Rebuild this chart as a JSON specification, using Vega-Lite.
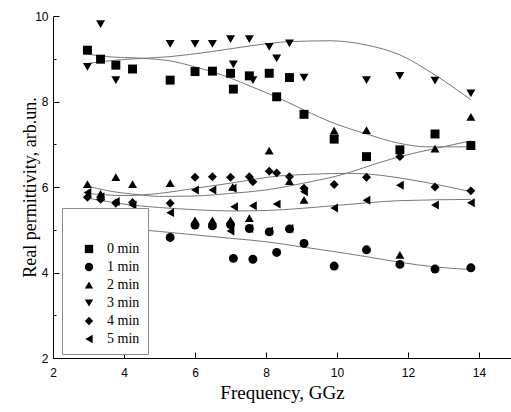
{
  "$schema": "https://vega.github.io/schema/vega-lite/v6.json",
  "width": 458,
  "height": 342,
  "autosize": "none",
  "padding": {"left": 53, "top": 16, "right": 0, "bottom": 54},
  "background": "white",
  "config": {"view": {"stroke": null}},
  "datasets": {
    "points": [
      {"f": 2.97, "v": 9.20, "series": "0 min"},
      {"f": 3.34, "v": 8.99, "series": "0 min"},
      {"f": 3.77, "v": 8.85, "series": "0 min"},
      {"f": 4.24, "v": 8.76, "series": "0 min"},
      {"f": 5.30, "v": 8.50, "series": "0 min"},
      {"f": 6.00, "v": 8.70, "series": "0 min"},
      {"f": 6.49, "v": 8.71, "series": "0 min"},
      {"f": 7.00, "v": 8.66, "series": "0 min"},
      {"f": 7.08, "v": 8.29, "series": "0 min"},
      {"f": 7.53, "v": 8.60, "series": "0 min"},
      {"f": 8.09, "v": 8.66, "series": "0 min"},
      {"f": 8.30, "v": 8.11, "series": "0 min"},
      {"f": 8.66, "v": 8.56, "series": "0 min"},
      {"f": 9.07, "v": 7.70, "series": "0 min"},
      {"f": 9.92, "v": 7.12, "series": "0 min"},
      {"f": 10.83, "v": 6.71, "series": "0 min"},
      {"f": 11.77, "v": 6.87, "series": "0 min"},
      {"f": 12.76, "v": 7.24, "series": "0 min"},
      {"f": 13.77, "v": 6.97, "series": "0 min"},
      {"f": 5.30, "v": 4.82, "series": "1 min"},
      {"f": 6.00, "v": 5.11, "series": "1 min"},
      {"f": 6.49, "v": 5.09, "series": "1 min"},
      {"f": 7.00, "v": 5.12, "series": "1 min"},
      {"f": 7.08, "v": 4.33, "series": "1 min"},
      {"f": 7.53, "v": 5.03, "series": "1 min"},
      {"f": 7.63, "v": 4.31, "series": "1 min"},
      {"f": 8.09, "v": 4.95, "series": "1 min"},
      {"f": 8.30, "v": 4.47, "series": "1 min"},
      {"f": 8.66, "v": 5.02, "series": "1 min"},
      {"f": 9.07, "v": 4.68, "series": "1 min"},
      {"f": 9.92, "v": 4.15, "series": "1 min"},
      {"f": 10.83, "v": 4.53, "series": "1 min"},
      {"f": 11.77, "v": 4.19, "series": "1 min"},
      {"f": 12.76, "v": 4.08, "series": "1 min"},
      {"f": 13.77, "v": 4.11, "series": "1 min"},
      {"f": 2.97, "v": 6.07, "series": "2 min"},
      {"f": 3.34, "v": 5.84, "series": "2 min"},
      {"f": 3.77, "v": 6.23, "series": "2 min"},
      {"f": 4.24, "v": 6.07, "series": "2 min"},
      {"f": 5.30, "v": 6.09, "series": "2 min"},
      {"f": 6.00, "v": 5.22, "series": "2 min"},
      {"f": 6.49, "v": 5.22, "series": "2 min"},
      {"f": 7.00, "v": 5.22, "series": "2 min"},
      {"f": 7.06, "v": 6.00, "series": "2 min"},
      {"f": 7.53, "v": 5.27, "series": "2 min"},
      {"f": 8.09, "v": 6.85, "series": "2 min"},
      {"f": 8.66, "v": 6.14, "series": "2 min"},
      {"f": 9.07, "v": 5.70, "series": "2 min"},
      {"f": 9.92, "v": 7.32, "series": "2 min"},
      {"f": 10.83, "v": 7.33, "series": "2 min"},
      {"f": 11.77, "v": 4.41, "series": "2 min"},
      {"f": 12.76, "v": 6.90, "series": "2 min"},
      {"f": 13.77, "v": 7.64, "series": "2 min"},
      {"f": 2.97, "v": 8.81, "series": "3 min"},
      {"f": 3.34, "v": 9.81, "series": "3 min"},
      {"f": 3.77, "v": 8.50, "series": "3 min"},
      {"f": 4.24, "v": 8.76, "series": "3 min"},
      {"f": 5.30, "v": 9.35, "series": "3 min"},
      {"f": 6.00, "v": 9.35, "series": "3 min"},
      {"f": 6.49, "v": 9.35, "series": "3 min"},
      {"f": 7.00, "v": 9.46, "series": "3 min"},
      {"f": 7.08, "v": 8.87, "series": "3 min"},
      {"f": 7.53, "v": 9.46, "series": "3 min"},
      {"f": 7.63, "v": 8.50, "series": "3 min"},
      {"f": 8.09, "v": 9.28, "series": "3 min"},
      {"f": 8.30, "v": 9.01, "series": "3 min"},
      {"f": 8.66, "v": 9.36, "series": "3 min"},
      {"f": 9.07, "v": 8.56, "series": "3 min"},
      {"f": 10.83, "v": 8.50, "series": "3 min"},
      {"f": 11.77, "v": 8.60, "series": "3 min"},
      {"f": 12.76, "v": 8.49, "series": "3 min"},
      {"f": 13.77, "v": 8.19, "series": "3 min"},
      {"f": 2.97, "v": 5.76, "series": "4 min"},
      {"f": 3.34, "v": 5.71, "series": "4 min"},
      {"f": 3.77, "v": 5.62, "series": "4 min"},
      {"f": 4.24, "v": 5.64, "series": "4 min"},
      {"f": 5.30, "v": 5.62, "series": "4 min"},
      {"f": 6.00, "v": 6.23, "series": "4 min"},
      {"f": 6.49, "v": 6.24, "series": "4 min"},
      {"f": 7.00, "v": 6.23, "series": "4 min"},
      {"f": 7.53, "v": 6.24, "series": "4 min"},
      {"f": 7.63, "v": 6.12, "series": "4 min"},
      {"f": 8.09, "v": 6.37, "series": "4 min"},
      {"f": 8.30, "v": 6.33, "series": "4 min"},
      {"f": 8.66, "v": 6.24, "series": "4 min"},
      {"f": 9.07, "v": 5.97, "series": "4 min"},
      {"f": 9.92, "v": 6.06, "series": "4 min"},
      {"f": 10.83, "v": 6.23, "series": "4 min"},
      {"f": 11.77, "v": 6.71, "series": "4 min"},
      {"f": 12.76, "v": 6.00, "series": "4 min"},
      {"f": 13.77, "v": 5.91, "series": "4 min"},
      {"f": 2.97, "v": 5.87, "series": "5 min"},
      {"f": 3.34, "v": 5.77, "series": "5 min"},
      {"f": 3.77, "v": 5.66, "series": "5 min"},
      {"f": 4.24, "v": 5.58, "series": "5 min"},
      {"f": 5.30, "v": 5.40, "series": "5 min"},
      {"f": 6.00, "v": 5.93, "series": "5 min"},
      {"f": 6.49, "v": 5.93, "series": "5 min"},
      {"f": 7.00, "v": 4.97, "series": "5 min"},
      {"f": 7.06, "v": 5.97, "series": "5 min"},
      {"f": 7.10, "v": 5.54, "series": "5 min"},
      {"f": 7.53, "v": 5.03, "series": "5 min"},
      {"f": 7.63, "v": 5.56, "series": "5 min"},
      {"f": 8.09, "v": 4.97, "series": "5 min"},
      {"f": 8.30, "v": 5.60, "series": "5 min"},
      {"f": 8.66, "v": 5.03, "series": "5 min"},
      {"f": 9.07, "v": 5.89, "series": "5 min"},
      {"f": 9.92, "v": 5.51, "series": "5 min"},
      {"f": 10.83, "v": 5.69, "series": "5 min"},
      {"f": 11.77, "v": 6.04, "series": "5 min"},
      {"f": 12.76, "v": 5.58, "series": "5 min"},
      {"f": 13.77, "v": 5.63, "series": "5 min"}
    ],
    "fits": [
      {"f": 2.97, "v": 9.11, "series": "0 min"},
      {"f": 3.5, "v": 9.05, "series": "0 min"},
      {"f": 4.54, "v": 9.01, "series": "0 min"},
      {"f": 5.3, "v": 8.95, "series": "0 min"},
      {"f": 6.0, "v": 8.81, "series": "0 min"},
      {"f": 6.9, "v": 8.58, "series": "0 min"},
      {"f": 7.64, "v": 8.33, "series": "0 min"},
      {"f": 8.39, "v": 8.07, "series": "0 min"},
      {"f": 9.07, "v": 7.80, "series": "0 min"},
      {"f": 9.92, "v": 7.49, "series": "0 min"},
      {"f": 10.83, "v": 7.24, "series": "0 min"},
      {"f": 11.77, "v": 7.02, "series": "0 min"},
      {"f": 12.52, "v": 6.94, "series": "0 min"},
      {"f": 13.77, "v": 6.94, "series": "0 min"},
      {"f": 2.97, "v": 5.10, "series": "1 min"},
      {"f": 4.0, "v": 5.03, "series": "1 min"},
      {"f": 5.0, "v": 4.96, "series": "1 min"},
      {"f": 6.0, "v": 4.88, "series": "1 min"},
      {"f": 7.0, "v": 4.80, "series": "1 min"},
      {"f": 8.0, "v": 4.72, "series": "1 min"},
      {"f": 9.0, "v": 4.60, "series": "1 min"},
      {"f": 10.0, "v": 4.48, "series": "1 min"},
      {"f": 10.83, "v": 4.37, "series": "1 min"},
      {"f": 11.77, "v": 4.24, "series": "1 min"},
      {"f": 12.76, "v": 4.13, "series": "1 min"},
      {"f": 13.77, "v": 4.07, "series": "1 min"},
      {"f": 2.97, "v": 6.02, "series": "2 min"},
      {"f": 3.5, "v": 5.92, "series": "2 min"},
      {"f": 4.4, "v": 5.82, "series": "2 min"},
      {"f": 5.0, "v": 5.78, "series": "2 min"},
      {"f": 6.0, "v": 5.79, "series": "2 min"},
      {"f": 7.0, "v": 5.85, "series": "2 min"},
      {"f": 8.0, "v": 5.93, "series": "2 min"},
      {"f": 9.0, "v": 6.08, "series": "2 min"},
      {"f": 10.27, "v": 6.32, "series": "2 min"},
      {"f": 11.0, "v": 6.52, "series": "2 min"},
      {"f": 11.77, "v": 6.71, "series": "2 min"},
      {"f": 12.76, "v": 6.90, "series": "2 min"},
      {"f": 13.77, "v": 7.08, "series": "2 min"},
      {"f": 2.97, "v": 8.89, "series": "3 min"},
      {"f": 3.8, "v": 8.97, "series": "3 min"},
      {"f": 4.54, "v": 9.01, "series": "3 min"},
      {"f": 5.3, "v": 9.05, "series": "3 min"},
      {"f": 6.49, "v": 9.17, "series": "3 min"},
      {"f": 7.64, "v": 9.31, "series": "3 min"},
      {"f": 8.66, "v": 9.40, "series": "3 min"},
      {"f": 9.8, "v": 9.42, "series": "3 min"},
      {"f": 10.83, "v": 9.32, "series": "3 min"},
      {"f": 11.77, "v": 9.09, "series": "3 min"},
      {"f": 12.76, "v": 8.62, "series": "3 min"},
      {"f": 13.77, "v": 8.04, "series": "3 min"},
      {"f": 2.97, "v": 5.85, "series": "4 min"},
      {"f": 4.0, "v": 5.80, "series": "4 min"},
      {"f": 5.0, "v": 5.85, "series": "4 min"},
      {"f": 6.0, "v": 5.97, "series": "4 min"},
      {"f": 7.0, "v": 6.09, "series": "4 min"},
      {"f": 8.39, "v": 6.26, "series": "4 min"},
      {"f": 9.33, "v": 6.30, "series": "4 min"},
      {"f": 10.3, "v": 6.32, "series": "4 min"},
      {"f": 10.9, "v": 6.30, "series": "4 min"},
      {"f": 12.14, "v": 6.16, "series": "4 min"},
      {"f": 13.77, "v": 5.89, "series": "4 min"},
      {"f": 2.97, "v": 5.74, "series": "5 min"},
      {"f": 4.0, "v": 5.60, "series": "5 min"},
      {"f": 5.0, "v": 5.52, "series": "5 min"},
      {"f": 6.0, "v": 5.47, "series": "5 min"},
      {"f": 7.0, "v": 5.44, "series": "5 min"},
      {"f": 8.0, "v": 5.45, "series": "5 min"},
      {"f": 9.0, "v": 5.50, "series": "5 min"},
      {"f": 10.0, "v": 5.57, "series": "5 min"},
      {"f": 11.77, "v": 5.68, "series": "5 min"},
      {"f": 13.77, "v": 5.71, "series": "5 min"}
    ]
  },
  "layer": [
    {
      "data": {"name": "fits"},
      "mark": {"type": "line", "color": "#777777", "strokeWidth": 1, "interpolate": "monotone"},
      "encoding": {
        "x": {"field": "f", "type": "quantitative"},
        "y": {"field": "v", "type": "quantitative"},
        "detail": {"field": "series", "type": "nominal"}
      }
    },
    {
      "data": {"name": "points"},
      "mark": {"type": "point", "filled": true, "color": "black", "opacity": 1, "size": 80, "strokeWidth": 0},
      "encoding": {
        "x": {
          "field": "f", "type": "quantitative",
          "scale": {"domain": [2, 14.9], "nice": false, "zero": false},
          "axis": {
            "title": "Frequency, GGz",
            "values": [2, 3, 4, 5, 6, 7, 8, 9, 10, 11, 12, 13, 14],
            "labelExpr": "datum.value % 2 === 0 ? datum.label : ''",
            "grid": false,
            "domainColor": "black",
            "tickColor": "black",
            "tickSize": {"condition": {"test": "datum.value % 2 === 1", "value": -3}, "value": -6},
            "labelPadding": 15,
            "labelFont": "Liberation Sans",
            "labelFontSize": 12,
            "labelColor": "black",
            "labelFlush": false,
            "titleFont": "Liberation Serif",
            "titleFontSize": 19,
            "titleFontWeight": "normal",
            "titleColor": "black",
            "titlePadding": 5
          }
        },
        "y": {
          "field": "v", "type": "quantitative",
          "scale": {"domain": [2, 10], "nice": false, "zero": false},
          "axis": {
            "title": "Real permittivity, arb.un.",
            "values": [2, 3, 4, 5, 6, 7, 8, 9, 10],
            "labelExpr": "datum.value % 2 === 0 ? datum.label : ''",
            "grid": false,
            "domainColor": "black",
            "tickColor": "black",
            "tickSize": {"condition": {"test": "datum.value % 2 === 1", "value": -3}, "value": -6},
            "labelPadding": 11,
            "labelFont": "Liberation Sans",
            "labelFontSize": 12,
            "labelColor": "black",
            "labelFlush": false,
            "titleFont": "Liberation Serif",
            "titleFontSize": 18,
            "titleFontWeight": "normal",
            "titleColor": "black",
            "titlePadding": -5
          }
        },
        "shape": {
          "field": "series", "type": "nominal",
          "scale": {
            "domain": ["0 min", "1 min", "2 min", "3 min", "4 min", "5 min"],
            "range": ["square", "circle", "triangle-up", "triangle-down", "diamond", "triangle-left"]
          },
          "legend": {
            "title": " ",
            "orient": "none",
            "legendX": 9,
            "legendY": 192,
            "fillColor": "white",
            "strokeColor": "#8c8c8c",
            "padding": 8,
            "titleFontSize": 14,
            "titlePadding": 12,
            "symbolOffset": 12,
            "symbolSize": 70,
            "symbolFillColor": "black",
            "symbolStrokeWidth": 0,
            "labelOffset": 11,
            "labelFont": "Liberation Serif",
            "labelFontSize": 14,
            "labelColor": "black",
            "rowPadding": 4
          }
        }
      }
    }
  ]
}
